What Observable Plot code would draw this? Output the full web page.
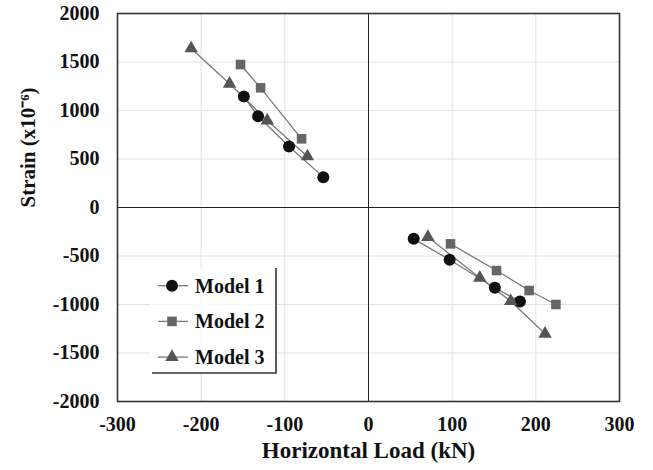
<!DOCTYPE html>
<html><head><meta charset="utf-8">
<script src="https://cdn.jsdelivr.net/npm/d3@7"></script>
<script src="https://cdn.jsdelivr.net/npm/@observablehq/plot@0.6"></script>
<style>
body{margin:0;background:#fff;}
#wrap{position:relative;width:653px;height:470px;background:#fff;}
</style></head><body><div id="wrap"></div>
<script>
const models = ["Model 1", "Model 2", "Model 3"];
const m1Load   = [-149, -132, -95, -54, 54, 97, 151, 181];
const m1Strain = [1144, 941, 629, 313, -323, -539, -828, -969];
const m2Load   = [-153, -129, -80, 98, 153, 192, 224];
const m2Strain = [1474, 1234, 708, -375, -650, -856, -1000];
const m3Load   = [-212, -166, -121, -73, 71, 133, 170, 211];
const m3Strain = [1640, 1275, 897, 526, -305, -725, -966, -1302];
const xTicks = [-300, -200, -100, 0, 100, 200, 300];
const yTicks = [-2000, -1500, -1000, -500, 0, 500, 1000, 1500, 2000];
const xTitle = "Horizontal Load (kN)";
const yTitle = "Strain (x10\u207B\u2076)";

const loads = [m1Load, m2Load, m3Load];
const strains = [m1Strain, m2Strain, m3Strain];
const data = [];
models.forEach((m, i) => loads[i].forEach((x, j) => data.push({
  model: m, load: x, strain: strains[i][j], branch: m + (x < 0 ? "-neg" : "-pos")
})));

const serif = '"Liberation Serif", "Times New Roman", serif';
const symbols = {"Model 1": "circle", "Model 2": "square", "Model 3": "triangle"};
const fills = {"Model 1": "#111", "Model 2": "#666", "Model 3": "#555"};
const radii = {"Model 1": 6, "Model 2": 5.4, "Model 3": 5};
const fmt = d => String(d);

const chart = Plot.plot({
  width: 653, height: 470,
  marginLeft: 117, marginRight: 34, marginTop: 13, marginBottom: 69,
  style: {fontFamily: serif, fontWeight: "bold", color: "#000", background: "#fff"},
  x: {domain: [-300, 300]},
  y: {domain: [-2000, 2000]},
  marks: [
    Plot.gridX(xTicks, {stroke: "#e2e2e2", strokeOpacity: 1}),
    Plot.gridY(yTicks, {stroke: "#e2e2e2", strokeOpacity: 1}),
    Plot.ruleX([0], {stroke: "#222", strokeWidth: 1}),
    Plot.ruleY([0], {stroke: "#222", strokeWidth: 1}),
    Plot.line(data, {x: "load", y: "strain", z: "branch", stroke: "#7a7a7a", strokeWidth: 1.3}),
    ...models.map(m => Plot.dot(data.filter(d => d.model === m), {
      x: "load", y: "strain", symbol: () => symbols[m], fill: fills[m], stroke: "none", r: radii[m]
    })),
    Plot.frame({stroke: "#333", strokeWidth: 1.6}),
    Plot.axisX(xTicks, {tickSize: 0, tickPadding: 15, fontSize: 20, fontWeight: "bold", fontFamily: serif, label: null, tickFormat: fmt, fill: "#111"}),
    Plot.axisY(yTicks, {tickSize: 0, tickPadding: 18, fontSize: 20, fontWeight: "bold", fontFamily: serif, label: null, tickFormat: fmt, fill: "#111"}),
    Plot.text([xTitle], {frameAnchor: "bottom", dy: 56, fontSize: 23, fontWeight: "bold", fontFamily: serif, fill: "#111"}),
    Plot.text([yTitle], {frameAnchor: "left", dx: -89, rotate: -90, fontSize: 21, fontWeight: "bold", fontFamily: serif, fill: "#111"})
  ]
});
const wrap = document.getElementById("wrap");
wrap.appendChild(chart);
d3.select(chart).selectAll("text").style("font-variant", "normal");

// legend overlay
const leg = d3.select(wrap).append("svg")
  .style("position", "absolute").style("left", "150px").style("top", "266px")
  .attr("width", 132).attr("height", 112);
leg.append("rect").attr("x", 0).attr("y", 2).attr("width", 126).attr("height", 105).attr("fill", "#fff").attr("fill-opacity", 0.75);
const symMap = {circle: d3.symbolCircle, square: d3.symbolSquare, triangle: d3.symbolTriangle};
models.forEach((m, i) => {
  const y = 19.7 + i * 35.7;
  const g = leg.append("g");
  g.append("line").attr("x1", 8).attr("x2", 38).attr("y1", y).attr("y2", y).attr("stroke", "#7a7a7a").attr("stroke-width", 1.3);
  g.append("path").attr("transform", `translate(22,${y})`)
    .attr("d", d3.symbol(symMap[symbols[m]], Math.PI * radii[m] * radii[m])())
    .attr("fill", fills[m]);
  g.append("text").attr("x", 45).attr("y", y).attr("dy", "0.35em")
    .attr("font-family", serif).attr("font-weight", "bold").attr("font-size", 20).attr("fill", "#111").text(m);
});
leg.append("path").attr("d", "M126,2V107H2").attr("fill", "none").attr("stroke", "#333").attr("stroke-width", 1.6);
</script></body></html>
